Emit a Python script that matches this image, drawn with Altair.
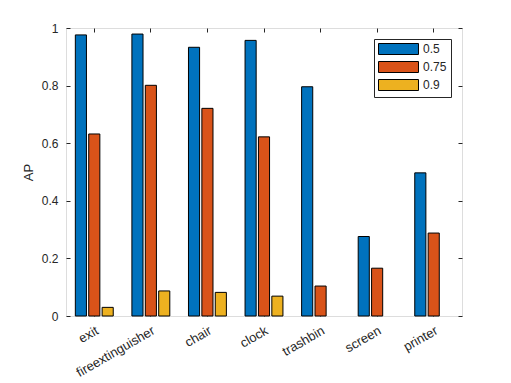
import altair as alt
import pandas as pd

categories = ["exit", "fireextinguisher", "chair", "clock", "trashbin", "screen", "printer"]
thresholds = ["0.5", "0.75", "0.9"]
ap_05 = [0.976, 0.979, 0.933, 0.957, 0.796, 0.276, 0.497]
ap_075 = [0.632, 0.801, 0.721, 0.622, 0.104, 0.166, 0.288]
ap_09 = [0.030, 0.087, 0.082, 0.069, 0.0, 0.0, 0.0]
colors = ["#0072BD", "#D95319", "#EDB120"]

rows = []
for t, vals in zip(thresholds, [ap_05, ap_075, ap_09]):
    for c, v in zip(categories, vals):
        rows.append({"category": c, "thr": t, "AP": v})
df = pd.DataFrame(rows)

FONT = "Liberation Sans"
AX = "#262626"
YTICKS = [0, 0.2, 0.4, 0.6, 0.8, 1.0]

xscale = alt.Scale(domain=categories, paddingInner=0.33, paddingOuter=0.165)
yscale = alt.Scale(domain=[0, 1], nice=False)

rect_path = "M-1,-1L6.27,-1L6.27,1L-1,1Z"

bars = alt.Chart(df).mark_bar(stroke="black", strokeWidth=1).encode(
    x=alt.X("category:N", sort=categories, scale=xscale,
            axis=alt.Axis(title=None, labelAngle=330, labelAlign="right", labelBaseline="top",
                          offset=-4, tickSize=4, domain=False, labelPadding=8,
                          labelFontSize=13, tickColor=AX, labelColor=AX, labelFont=FONT)),
    xOffset=alt.XOffset("thr:N", sort=thresholds, scale=alt.Scale(paddingInner=0.17)),
    y=alt.Y("AP:Q", scale=yscale,
            axis=alt.Axis(title="AP", values=YTICKS, format="~g", offset=-4, tickSize=4,
                          domain=False, labelPadding=8, labelFontSize=12, grid=False,
                          tickColor=AX, labelColor=AX, labelFont=FONT,
                          titleFont=FONT, titleFontSize=13, titleFontWeight="normal",
                          titleColor=AX, titlePadding=6)),
    strokeOpacity=alt.condition("datum.AP > 0", alt.value(1), alt.value(0)),
    color=alt.Color("thr:N", sort=thresholds,
                    scale=alt.Scale(domain=thresholds, range=colors),
                    legend=alt.Legend(title=None, orient="none", legendX=308, legendY=11,
                                      symbolType=rect_path, symbolSize=121,
                                      symbolStrokeColor="black", symbolStrokeWidth=1,
                                      symbolOpacity=1, labelFontSize=12, labelFont=FONT,
                                      labelColor=AX, strokeColor=AX, fillColor="white",
                                      padding=4, rowPadding=2, labelOffset=33)),
)

frame = alt.Chart(df).mark_bar(opacity=0).encode(
    x=alt.X("category:N", sort=categories, scale=xscale,
            axis=alt.Axis(orient="top", title=None, labels=False, offset=-4, tickSize=4,
                          domain=False, tickColor=AX)),
    y=alt.Y("AP:Q", scale=yscale,
            axis=alt.Axis(orient="right", title=None, labels=False, offset=-4, tickSize=4,
                          domain=False, grid=False, tickColor=AX, values=YTICKS)),
)

chart = alt.layer(bars, frame).resolve_axis(x="independent", y="independent").properties(
    width=396, height=288,
    autosize=alt.AutoSizeParams(type="none"),
    padding={"left": 58, "top": 20, "right": 30, "bottom": 64},
).configure_view(stroke=AX, strokeWidth=1).configure(background="white")

chart.save("out.html", embed_options={"renderer": "svg", "actions": False})
